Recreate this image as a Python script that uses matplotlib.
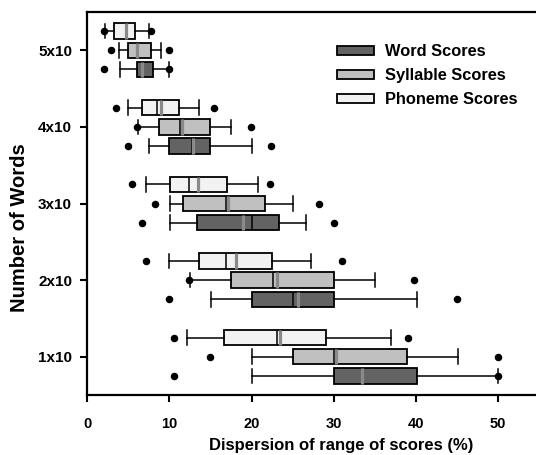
import matplotlib
matplotlib.use("Agg")
import matplotlib.pyplot as plt
from matplotlib.patches import Patch

# Groups (bottom to top)
groups = ["1x10", "2x10", "3x10", "4x10", "5x10"]
xticks = [0, 10, 20, 30, 40, 50]

# Word scores
word_whislo = [20.0, 15.1, 10.1, 7.5, 4.0]
word_q1     = [30.0, 20.0, 13.3, 10.0, 6.0]
word_med    = [33.5, 25.0, 20.0, 12.8, 6.7]
word_mean   = [33.5, 25.7, 19.0, 12.9, 6.7]
word_q3     = [40.1, 30.0, 23.4, 15.0, 8.0]
word_whishi = [50.0, 40.1, 26.6, 20.0, 9.9]
word_fliers = [[10.5, 50.0], [9.9, 45.0], [6.7, 30.0], [4.9, 22.4], [2.0, 10.0]]

# Syllable scores
syl_whislo = [20.1, 12.5, 10.1, 6.2, 3.9]
syl_q1     = [25.0, 17.5, 11.7, 8.7, 5.0]
syl_med    = [30.1, 22.6, 16.9, 11.3, 6.1]
syl_mean   = [30.3, 23.1, 17.1, 11.5, 6.1]
syl_q3     = [38.9, 30.0, 21.7, 15.0, 7.8]
syl_whishi = [45.1, 35.0, 25.0, 17.5, 9.0]
syl_fliers = [[15.0, 50.0], [12.4, 39.8], [8.3, 28.2], [6.1, 19.9], [2.9, 9.9]]

# Phoneme scores
pho_whislo = [12.1, 10.0, 7.2, 5.0, 2.2]
pho_q1     = [16.6, 13.6, 10.1, 6.7, 3.3]
pho_med    = [23.1, 16.9, 12.4, 8.5, 4.7]
pho_mean   = [23.5, 18.1, 13.5, 9.0, 4.7]
pho_q3     = [29.1, 22.5, 17.0, 11.2, 5.8]
pho_whishi = [37.0, 27.2, 20.8, 13.6, 7.5]
pho_fliers = [[10.5, 39.0], [7.2, 31.0], [5.4, 22.2], [3.5, 15.4], [2.0, 7.7]]

series = [
    ("Word Scores", "#636363", -0.25,
     word_whislo, word_q1, word_med, word_mean, word_q3, word_whishi, word_fliers),
    ("Syllable Scores", "#c0c0c0", 0.0,
     syl_whislo, syl_q1, syl_med, syl_mean, syl_q3, syl_whishi, syl_fliers),
    ("Phoneme Scores", "#f2f2f2", 0.25,
     pho_whislo, pho_q1, pho_med, pho_mean, pho_q3, pho_whishi, pho_fliers),
]

plt.rcParams['font.family'] = ['Liberation Sans', 'DejaVu Sans']
plt.rcParams['font.weight'] = 'bold'

fig = plt.figure(figsize=(5.36, 4.55), dpi=100)
ax = fig.add_axes([87.3 / 536, 1 - 395 / 455, 451.6 / 536, (395 - 12) / 455])

handles = []
for name, color, off, wlo, q1, med, mean, q3, whi, fl in series:
    stats = []
    for i in range(len(groups)):
        stats.append(dict(whislo=wlo[i], q1=q1[i], med=med[i], mean=mean[i],
                          q3=q3[i], whishi=whi[i], fliers=fl[i]))
    pos = [i + 1 + off for i in range(len(groups))]
    ax.bxp(stats, positions=pos, vert=False, widths=0.2, capwidths=0.19,
           patch_artist=True, showmeans=True, meanline=True,
           boxprops=dict(facecolor=color, edgecolor="black", linewidth=1.3),
           medianprops=dict(color="black", linewidth=1.1),
           meanprops=dict(color="#8a8a8a", linewidth=2.3, linestyle="-"),
           whiskerprops=dict(color="black", linewidth=1.1),
           capprops=dict(color="black", linewidth=1.1),
           flierprops=dict(marker="o", markerfacecolor="black",
                           markeredgecolor="black", markersize=4.4),
           manage_ticks=False)
    handles.append(Patch(facecolor=color, edgecolor="black", linewidth=1.3, label=name))

ax.set_xlim(0, 55)
ax.set_ylim(0.5, 5.5)
ax.set_xticks(xticks)
ax.set_xticklabels([str(t) for t in xticks])
ax.set_yticks(range(1, len(groups) + 1))
ax.set_yticklabels(groups)

for s in ["left", "bottom", "top"]:
    ax.spines[s].set_linewidth(1.6)
ax.spines["right"].set_visible(False)
ax.tick_params(axis="both", direction="out", length=5, width=1.5)
ax.tick_params(axis="x", labelsize=10.5, pad=11)
ax.tick_params(axis="y", labelsize=11, pad=6)
ax.tick_params(top=False, right=False)

ax.set_xlabel("Dispersion of range of scores (%)", fontsize=12, fontweight="bold")
ax.xaxis.set_label_coords(0.562, -0.113)
ax.set_ylabel("Number of Words", fontsize=14.5, fontweight="bold")
ax.yaxis.set_label_coords(-0.129, 0.436)

fig.legend(handles=handles, loc="upper left", bbox_to_anchor=(337 / 536, 1 - 44 / 455),
           frameon=False, borderpad=0, borderaxespad=0, handlelength=2.25,
           handleheight=0.48, handletextpad=0.68, labelspacing=0.55,
           prop=dict(size=11.8, weight="bold"))

fig.savefig("out.png", dpi=100)
